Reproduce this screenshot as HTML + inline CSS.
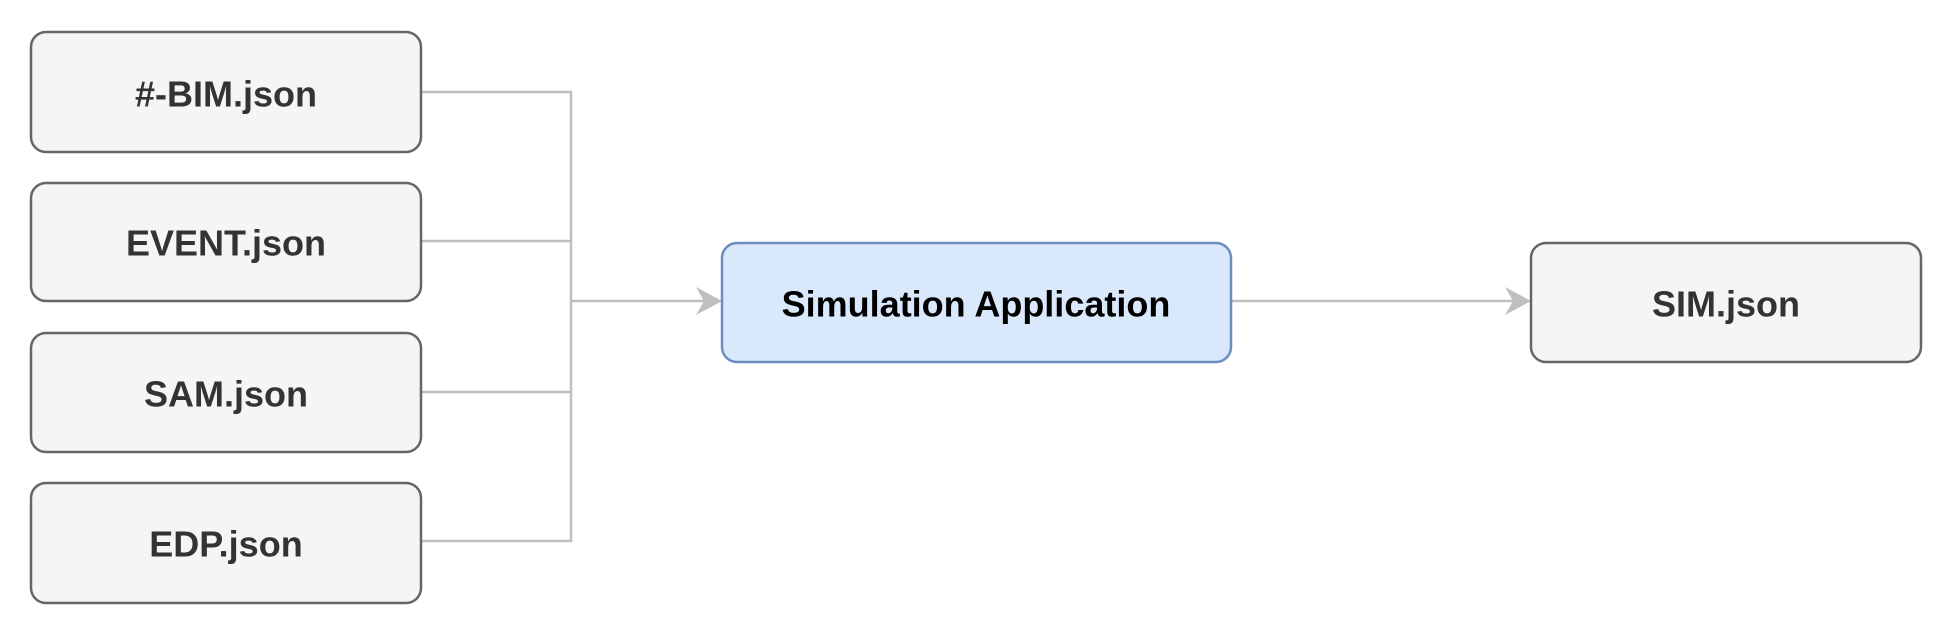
<!DOCTYPE html>
<html><head><meta charset="utf-8"><style>
html,body{margin:0;padding:0;background:#fff;width:1952px;height:636px;overflow:hidden}
svg{display:block}
text{font-family:"Liberation Sans",Arial,sans-serif;font-weight:bold;font-size:36px;text-anchor:middle;dominant-baseline:central}
</style></head><body>
<svg width="1952" height="636" viewBox="0 0 1952 636">
<g fill="none" stroke="#bfbfbf" stroke-width="2.5">
<path d="M421 92H571V541H421M421 241H571M421 392H571M571 301H705M1231 301H1515"/>
</g>
<path d="M722 301L696 287L704 301L696 315Z" fill="#bfbfbf"/>
<path d="M1531 301L1505 287L1513 301L1505 315Z" fill="#bfbfbf"/>
<g stroke="#666" stroke-width="2.5" fill="#f5f5f5">
<rect x="31" y="32" width="390" height="120" rx="15"/>
<rect x="31" y="183" width="390" height="118" rx="15"/>
<rect x="31" y="333" width="390" height="119" rx="15"/>
<rect x="31" y="483" width="390" height="120" rx="15"/>
<rect x="1531" y="243" width="390" height="119" rx="15"/>
</g>
<rect x="722" y="243" width="509" height="119" rx="15" fill="#dae8fc" stroke="#6c8ebf" stroke-width="2.5"/>
<g fill="#333">
<text x="226" y="94">#-BIM.json</text>
<text x="226" y="243">EVENT.json</text>
<text x="226" y="394">SAM.json</text>
<text x="226" y="544">EDP.json</text>
<text x="1726" y="304">SIM.json</text>
</g>
<text x="976" y="304" fill="#000">Simulation Application</text>
</svg>
</body></html>
